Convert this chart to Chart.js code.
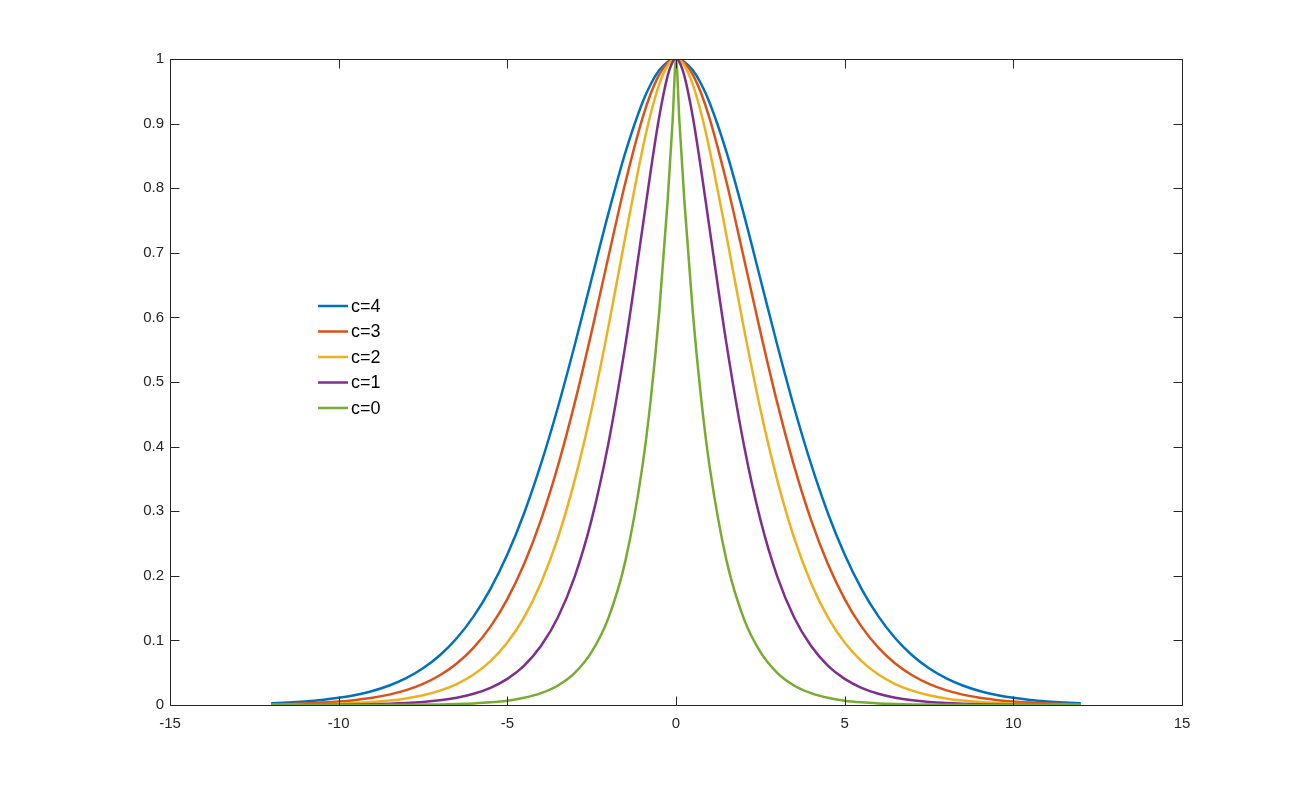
<!DOCTYPE html>
<html>
<head>
<meta charset="utf-8">
<script src="https://cdn.jsdelivr.net/npm/chart.js@4.4.1/dist/chart.umd.min.js"></script>
<style>
  html, body { margin: 0; padding: 0; background: #ffffff; }
  #wrap { position: relative; width: 1306px; height: 793px; }
</style>
</head>
<body>
<div id="wrap"><canvas id="c"></canvas></div>
<script>
const xValues = [-12,-11.5,-11,-10.5,-10,-9.5,-9,-8.5,-8,-7.5,-7,-6.5,-6,-5.5,-5,-4.5,-4,-3.5,-3,-2.5,-2,-1.5,-1,-0.75,-0.5,-0.25,-0.1,0,0.1,0.25,0.5,0.75,1,1.5,2,2.5,3,3.5,4,4.5,5,5.5,6,6.5,7,7.5,8,8.5,9,9.5,10,10.5,11,11.5,12];

const c4 = [0.0027,0.0038,0.0055,0.0078,0.0111,0.0156,0.0217,0.0302,0.0416,0.0569,0.0771,0.1034,0.1372,0.1799,0.2329,0.2973,0.3735,0.4609,0.5576,0.6599,0.7617,0.8555,0.9320,0.9609,0.9824,0.9955,0.9993,1,0.9993,0.9955,0.9824,0.9609,0.9320,0.8555,0.7617,0.6599,0.5576,0.4609,0.3735,0.2973,0.2329,0.1799,0.1372,0.1034,0.0771,0.0569,0.0416,0.0302,0.0217,0.0156,0.0111,0.0078,0.0055,0.0038,0.0027];

const c3 = [0.0011,0.0017,0.0025,0.0037,0.0053,0.0078,0.0112,0.0161,0.0230,0.0327,0.0460,0.0642,0.0887,0.1213,0.1640,0.2186,0.2870,0.3702,0.4680,0.5780,0.6947,0.8088,0.9074,0.9462,0.9755,0.9938,0.9990,1,0.9990,0.9938,0.9755,0.9462,0.9074,0.8088,0.6947,0.5780,0.4680,0.3702,0.2870,0.2186,0.1640,0.1213,0.0887,0.0642,0.0460,0.0327,0.0230,0.0161,0.0112,0.0078,0.0053,0.0037,0.0025,0.0017,0.0011];

const c2 = [0.0004,0.0006,0.0009,0.0013,0.0020,0.0030,0.0046,0.0068,0.0102,0.0151,0.0222,0.0324,0.0471,0.0678,0.0966,0.1361,0.1893,0.2592,0.3485,0.4583,0.5865,0.7252,0.8584,0.9152,0.9603,0.9897,0.9983,1,0.9983,0.9897,0.9603,0.9152,0.8584,0.7252,0.5865,0.4583,0.3485,0.2592,0.1893,0.1361,0.0966,0.0678,0.0471,0.0324,0.0222,0.0151,0.0102,0.0068,0.0046,0.0030,0.0020,0.0013,0.0009,0.0006,0.0004];

const c1 = [0.0001,0.0001,0.0002,0.0003,0.0005,0.0008,0.0012,0.0019,0.0030,0.0047,0.0073,0.0113,0.0174,0.0266,0.0404,0.0611,0.0916,0.1359,0.1991,0.2873,0.4060,0.5578,0.7358,0.8266,0.9098,0.9735,0.9953,1,0.9953,0.9735,0.9098,0.8266,0.7358,0.5578,0.4060,0.2873,0.1991,0.1359,0.0916,0.0611,0.0404,0.0266,0.0174,0.0113,0.0073,0.0047,0.0030,0.0019,0.0012,0.0008,0.0005,0.0003,0.0002,0.0001,0.0001];

const c0 = [0,0,0,0,0,0.0001,0.0001,0.0002,0.0003,0.0006,0.0009,0.0015,0.0025,0.0041,0.0067,0.0111,0.0183,0.0302,0.0498,0.0821,0.1353,0.2231,0.3679,0.4724,0.6065,0.7788,0.9048,1,0.9048,0.7788,0.6065,0.4724,0.3679,0.2231,0.1353,0.0821,0.0498,0.0302,0.0183,0.0111,0.0067,0.0041,0.0025,0.0015,0.0009,0.0006,0.0003,0.0002,0.0001,0.0001,0,0,0,0,0];

const seriesLabels = ['c=4', 'c=3', 'c=2', 'c=1', 'c=0'];
const seriesValues = [c4, c3, c2, c1, c0];
const seriesColors = ['#0072BD', '#D95319', '#EDB120', '#7E2F8E', '#77AC30'];

const xTicks = [-15, -10, -5, 0, 5, 10, 15];
const yTicks = [0, 0.1, 0.2, 0.3, 0.4, 0.5, 0.6, 0.7, 0.8, 0.9, 1];
const xTickLabels = ['-15', '-10', '-5', '0', '5', '10', '15'];
const yTickLabels = ['0', '0.1', '0.2', '0.3', '0.4', '0.5', '0.6', '0.7', '0.8', '0.9', '1'];

const AXIS = '#262626';
const FONT = '"Liberation Sans", Arial, Helvetica, sans-serif';

const datasets = seriesValues.map((vals, i) => ({
  label: seriesLabels[i],
  data: xValues.map((x, j) => ({ x: x, y: vals[j] })),
  borderColor: seriesColors[i],
  backgroundColor: seriesColors[i],
  borderWidth: 2.5,
  pointRadius: 0,
  pointHoverRadius: 0,
  fill: false,
  cubicInterpolationMode: 'monotone',
  order: seriesValues.length - i
}));

const boxPlugin = {
  id: 'matlabBox',
  afterDatasetsDraw(chart) {
    const ctx = chart.ctx;
    const a = chart.chartArea;
    const L = Math.round(a.left) + 0.5, R = Math.round(a.right) + 0.5;
    const T = Math.round(a.top) + 0.5, B = Math.round(a.bottom) + 0.5;
    const tl = 9;
    ctx.save();
    ctx.strokeStyle = AXIS;
    ctx.lineWidth = 1;
    ctx.beginPath();
    ctx.rect(L, T, R - L, B - T);
    chart.scales.x.ticks.forEach(t => {
      const px = Math.round(chart.scales.x.getPixelForValue(t.value)) + 0.5;
      ctx.moveTo(px, B); ctx.lineTo(px, B - tl);
      ctx.moveTo(px, T); ctx.lineTo(px, T + tl);
    });
    chart.scales.y.ticks.forEach(t => {
      const py = Math.round(chart.scales.y.getPixelForValue(t.value)) + 0.5;
      ctx.moveTo(L, py); ctx.lineTo(L + tl, py);
      ctx.moveTo(R, py); ctx.lineTo(R - tl, py);
    });
    ctx.stroke();
    ctx.restore();
  },
  afterDraw(chart) {
    const ctx = chart.ctx;
    ctx.save();
    ctx.font = '18px ' + FONT;
    ctx.textBaseline = 'middle';
    ctx.textAlign = 'left';
    chart.data.datasets.forEach((ds, i) => {
      const y = 306 + i * 25.5;
      ctx.strokeStyle = ds.borderColor;
      ctx.lineWidth = 2.5;
      ctx.beginPath();
      ctx.moveTo(318, y);
      ctx.lineTo(348, y);
      ctx.stroke();
      ctx.fillStyle = '#000000';
      ctx.fillText(ds.label, 351, y + 1);
    });
    ctx.restore();
  }
};

new Chart(document.getElementById('c'), {
  type: 'line',
  data: { datasets: datasets },
  options: {
    responsive: true,
    maintainAspectRatio: false,
    animation: false,
    layout: { padding: { left: 0, top: 59, right: 124, bottom: 48 } },
    plugins: { legend: { display: false }, tooltip: { enabled: false } },
    scales: {
      x: {
        type: 'linear',
        min: -15, max: 15,
        afterBuildTicks(scale) { scale.ticks = xTicks.map(v => ({ value: v })); },
        afterFit(scale) { scale.height = 40; },
        grid: { display: false, drawTicks: false },
        border: { display: false },
        ticks: {
          autoSkip: false, maxRotation: 0, padding: 10, color: AXIS,
          font: { family: FONT, size: 15 },
          callback: (v) => xTickLabels[xTicks.indexOf(v)]
        }
      },
      y: {
        type: 'linear',
        min: 0, max: 1,
        afterBuildTicks(scale) { scale.ticks = yTicks.map(v => ({ value: v })); },
        afterFit(scale) { scale.width = 170; },
        grid: { display: false, drawTicks: false },
        border: { display: false },
        ticks: {
          autoSkip: false, padding: 6, color: AXIS,
          font: { family: FONT, size: 15 },
          callback: (v) => yTickLabels[yTicks.indexOf(v)]
        }
      }
    }
  },
  plugins: [boxPlugin]
});
</script>
</body>
</html>
